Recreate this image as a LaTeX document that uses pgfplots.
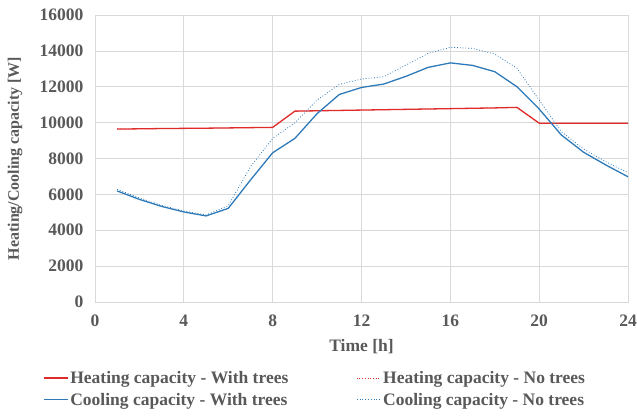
\documentclass[border=0pt]{standalone}
\usepackage{fontspec}
\setmainfont{Liberation Serif}
\usepackage{pgfplots}
\pgfplotsset{compat=1.18}
\definecolor{txtgray}{HTML}{595959}
\definecolor{gridgray}{HTML}{D9D9D9}
\definecolor{heatred}{HTML}{E02B2B}
\definecolor{coolblue}{HTML}{2E7AB8}
\newcommand{\chartfont}{\fontsize{17.5}{19}\selectfont\bfseries}
\begin{document}
\begin{tikzpicture}
\begin{axis}[
  name=ax,
  scale only axis,
  width=533pt, height=287pt,
  xmin=0, xmax=24, ymin=0, ymax=16000,
  xtick={0,4,...,24},
  ytick={0,2000,...,16000},
  grid=major,
  major grid style={gridgray, line width=0.7pt},
  axis line style={gridgray, line width=0.7pt},
  tick style={draw=none},
  scaled y ticks=false,
  /pgf/number format/assume math mode=true,
  /pgf/number format/1000 sep={},
  tick label style={text=txtgray, font=\chartfont},
  xticklabel style={yshift=-9.5pt},
  yticklabel style={xshift=-8pt},
  xlabel={Time [h]},
  ylabel={Heating/Cooling capacity [W]},
  xlabel style={text=txtgray, font=\chartfont, at={(axis description cs:0.5,-0.157)}, anchor=center},
  ylabel style={text=txtgray, font=\fontsize{16}{18}\selectfont\bfseries, at={(axis description cs:-0.150,0.5)}, anchor=center},
  legend columns=2,
  legend style={at={(axis description cs:0.4128,-0.303)}, anchor=center, draw=none, text=txtgray,
    font=\chartfont, inner sep=0pt,
    /tikz/every even column/.append style={column sep=66pt},
    row sep=4pt},
  legend cell align=left,
  legend image code/.code={\draw[#1] (0pt,0pt) -- (24pt,0pt);},
]
\addplot[heatred, line width=1.3pt] coordinates {
(1,9640) (2,9655) (3,9670) (4,9680) (5,9690) (6,9705) (7,9720) (8,9735)
(9,10640) (10,10660) (11,10680) (12,10700) (13,10720) (14,10740) (15,10760)
(16,10780) (17,10800) (18,10820) (19,10850) (20,9970) (21,9970) (22,9970)
(23,9970) (24,9970)};
\addlegendentry{Heating capacity - With trees}
\addplot[heatred, line width=0.7pt, dotted] coordinates {
(1,9640) (2,9655) (3,9670) (4,9680) (5,9690) (6,9705) (7,9720) (8,9735)
(9,10640) (10,10660) (11,10680) (12,10700) (13,10720) (14,10740) (15,10760)
(16,10780) (17,10800) (18,10820) (19,10850) (20,9970) (21,9970) (22,9970)
(23,9970) (24,9970)};
\addlegendentry{Heating capacity - No trees}
\addplot[coolblue, line width=1.3pt] coordinates {
(1,6190) (2,5720) (3,5330) (4,5020) (5,4800) (6,5220) (7,6800) (8,8320)
(9,9120) (10,10500) (11,11570) (12,11960) (13,12150) (14,12580) (15,13080)
(16,13330) (17,13190) (18,12840) (19,12000) (20,10760) (21,9310) (22,8350)
(23,7640) (24,6980)};
\addlegendentry{Cooling capacity - With trees}
\addplot[coolblue, line width=0.8pt, dotted] coordinates {
(1,6280) (2,5800) (3,5390) (4,5080) (5,4850) (6,5370) (7,7540) (8,9120)
(9,9990) (10,11260) (11,12130) (12,12430) (13,12560) (14,13210) (15,13860)
(16,14200) (17,14140) (18,13820) (19,13030) (20,11260) (21,9490) (22,8530)
(23,7820) (24,7210)};
\addlegendentry{Cooling capacity - No trees}
\end{axis}
\pgfresetboundingbox
\path[use as bounding box] ([shift={(-95pt,-113pt)}]ax.south west) rectangle ([shift={(9pt,15pt)}]ax.north east);
\end{tikzpicture}
\end{document}
